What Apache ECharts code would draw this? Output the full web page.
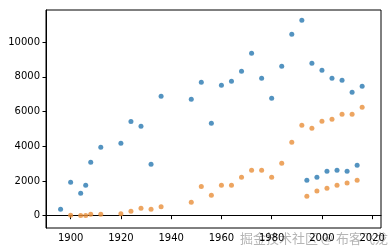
<!DOCTYPE html>
<html>
<head>
<meta charset="utf-8">
<script src="https://cdn.jsdelivr.net/npm/echarts@6/dist/echarts.min.js"></script>
<style>
html,body{margin:0;padding:0;background:#fff;}
#c{width:392px;height:252px;}
</style>
</head>
<body>
<div id="c"></div>
<script>
const blueYears = [1896,1900,1904,1906,1908,1912,1920,1924,1928,1932,1936,1948,1952,1956,1960,1964,1968,1972,1976,1980,1984,1988,1992,1996,2000,2004,2008,2012,2016,1994,1998,2002,2006,2010,2014];
const blueValues = [370,1925,1290,1750,3080,3940,4170,5430,5150,2960,6880,6715,7690,5325,7515,7745,8320,9360,7920,6765,8610,10455,11260,8780,8380,7920,7800,7110,7460,2040,2213,2560,2617,2560,2905];
const orangeYears = [1900,1904,1906,1908,1912,1920,1924,1928,1932,1936,1948,1952,1956,1960,1964,1968,1972,1976,1980,1984,1988,1992,1996,2000,2004,2008,2012,2016,1994,1998,2002,2006,2010,2014];
const orangeValues = [23,6,6,80,80,115,250,425,370,520,770,1690,1175,1750,1750,2213,2617,2617,2213,3020,4230,5220,5037,5440,5556,5845,5845,6248,1118,1424,1580,1750,1885,2040];
const xTicks = [1900,1920,1940,1960,1980,2000,2020];
const yTicks = [0,2000,4000,6000,8000,10000];

const chart = echarts.init(document.getElementById('c'), null, {renderer:'canvas'});
const pair = (xs, ys) => xs.map((x,i)=>[x, ys[i]]);
chart.setOption({
  animation:false,
  backgroundColor:'#fff',
  grid:{left:46,right:11,top:10,bottom:24,show:true,borderColor:'#000',borderWidth:1},
  xAxis:{type:'value',min:1890.2,max:2023.5,
    axisLine:{show:true,lineStyle:{color:'#000',width:1}},
    axisTick:{show:true,length:3.5,inside:false,customValues:xTicks,lineStyle:{color:'#000'}},
    axisLabel:{customValues:xTicks,formatter:v=>String(v),color:'#000',fontSize:10,fontFamily:'DejaVu Sans',margin:5},
    splitLine:{show:false}},
  yAxis:{type:'value',min:-709,max:11856,
    axisLine:{show:true,lineStyle:{color:'#000',width:1}},
    axisTick:{show:true,length:3.5,customValues:yTicks,lineStyle:{color:'#000'}},
    axisLabel:{customValues:yTicks,formatter:v=>String(v),color:'#000',fontSize:10,fontFamily:'DejaVu Sans',margin:6},
    splitLine:{show:false}},
  graphic:[{type:'text',right:4,bottom:7,style:{text:'掘金技术社区 @ 布客飞龙',fill:'rgba(120,120,120,0.55)',font:'13px "Noto Sans CJK SC"'}}],
  series:[
    {type:'scatter',data:pair(blueYears,blueValues),symbolSize:5,itemStyle:{color:'#2878b0'}},
    {type:'scatter',data:pair(orangeYears,orangeValues),symbolSize:5,itemStyle:{color:'#e98e3a'}}
  ]
});
</script>
</body>
</html>
